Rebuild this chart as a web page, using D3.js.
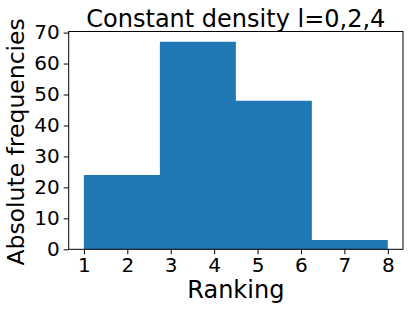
<!DOCTYPE html>
<html>
<head>
<meta charset="utf-8">
<script src="https://cdn.jsdelivr.net/npm/d3@7"></script>
<style>
  body { margin: 0; background: #fff; }
  text { font-family: "DejaVu Sans", sans-serif; fill: #000; }
</style>
</head>
<body>
<svg id="chart"></svg>
<script>
// Histogram data: bin edges and counts
const binEdges = [1, 2.75, 4.5, 6.25, 8];
const counts = [24, 67, 48, 3];
const xTicks = [1, 2, 3, 4, 5, 6, 7, 8];
const yTicks = [0, 10, 20, 30, 40, 50, 60, 70];

const W = 409, H = 310;
const margin = { top: 31.5, right: 6, bottom: 60.7, left: 68.7 };
const width = W - margin.left - margin.right,
      height = H - margin.top - margin.bottom;

const svg = d3.select("#chart")
  .attr("width", W)
  .attr("height", H);

const g = svg.append("g")
  .attr("transform", `translate(${margin.left},${margin.top})`);

// Scales (matplotlib-style 5% margins)
const x = d3.scaleLinear().domain([0.65, 8.35]).range([0, width]);
const y = d3.scaleLinear().domain([0, 70.35]).range([height, 0]);

// Bars (one path so neighbouring bars show no seam)
const bins = counts.map((c, i) => ({ x0: binEdges[i], x1: binEdges[i + 1], count: c }));
const barPath = d3.path();
barPath.moveTo(x(bins[0].x0), y(0));
bins.forEach(d => {
  barPath.lineTo(x(d.x0), y(d.count));
  barPath.lineTo(x(d.x1), y(d.count));
});
barPath.lineTo(x(bins[bins.length - 1].x1), y(0));
barPath.closePath();
g.append("path")
  .attr("class", "bar")
  .attr("d", barPath.toString())
  .attr("fill", "#1f77b4");

// Frame
g.append("rect")
  .attr("width", width)
  .attr("height", height)
  .attr("fill", "none")
  .attr("stroke", "#000")
  .attr("stroke-width", 1);

// X axis
const xAxis = g.append("g")
  .attr("transform", `translate(0,${height})`)
  .call(d3.axisBottom(x).tickValues(xTicks).tickSize(5).tickPadding(4).tickFormat(d3.format("d")));
xAxis.select(".domain").remove();
xAxis.selectAll("text").style("font-size", "20px").style("font-family", "DejaVu Sans");

// Y axis
const yAxis = g.append("g")
  .call(d3.axisLeft(y).tickValues(yTicks).tickSize(5).tickPadding(4));
yAxis.select(".domain").remove();
yAxis.selectAll("text").style("font-size", "20px").style("font-family", "DejaVu Sans");

// Title
svg.append("text")
  .attr("x", margin.left + width / 2)
  .attr("y", 26.5)
  .attr("text-anchor", "middle")
  .style("font-size", "24px")
  .text("Constant density l=0,2,4");

// X label
svg.append("text")
  .attr("x", margin.left + width / 2)
  .attr("y", 298)
  .attr("text-anchor", "middle")
  .style("font-size", "24px")
  .text("Ranking");

// Y label
svg.append("text")
  .attr("transform", "rotate(-90)")
  .attr("x", -(margin.top + height / 2 + 1.5))
  .attr("y", 24)
  .attr("text-anchor", "middle")
  .style("font-size", "23.5px")
  .text("Absolute frequencies");
</script>
</body>
</html>
